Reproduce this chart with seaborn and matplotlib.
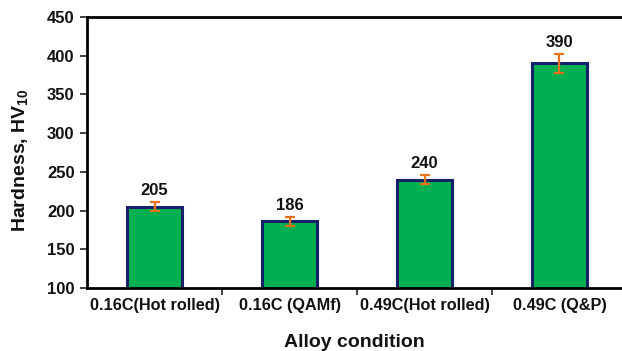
import matplotlib
matplotlib.use("Agg")
import matplotlib.pyplot as plt
import seaborn as sns
import pandas as pd
from matplotlib.ticker import FixedLocator

# Vickers hardness of each alloy condition
conditions = ["0.16C(Hot rolled)", "0.16C (QAMf)", "0.49C(Hot rolled)", "0.49C (Q&P)"]
hardness = [205, 186, 240, 390]
hardness_err = [6, 6, 6, 12]

df = pd.DataFrame({"condition": conditions, "hardness": hardness})

sns.set_theme(style="ticks")
plt.rcParams["font.family"] = ["Liberation Sans", "DejaVu Sans"]
plt.rcParams["font.weight"] = "bold"

fig = plt.figure(figsize=(6.22, 3.51), dpi=100)
ax = fig.add_axes([0.1399, 0.1795, 0.8601, 0.7721])

sns.barplot(data=df, x="condition", y="hardness", color="#00B050",
            edgecolor="#14206A", linewidth=2.2, width=0.41, saturation=1,
            errorbar=None, ax=ax)

ax.errorbar(range(len(conditions)), hardness, yerr=hardness_err, fmt="none",
            ecolor="#E8721C", elinewidth=1.6, capsize=3.5, capthick=1.6, zorder=5)

for i, (v, e) in enumerate(zip(hardness, hardness_err)):
    ax.annotate(f"{v}", (i, v + e), xytext=(0, 3), textcoords="offset points",
                ha="center", va="bottom", fontsize=12, fontweight="bold", color="#111111")

ax.set_ylim(100, 450)
ax.set_yticks(range(100, 451, 50))
ax.set_xlim(-0.5, 3.463)

# tick marks sit between the categories, labels at the bar centres
ax.tick_params(axis="x", which="major", length=0, pad=7)
ax.xaxis.set_minor_locator(FixedLocator([0.5, 1.5, 2.5]))
ax.tick_params(axis="x", which="minor", length=5, width=1.2, color="#222222", direction="out")
ax.tick_params(axis="y", length=5, width=1.2, color="#222222", direction="out", pad=4)

for lab in ax.get_xticklabels():
    lab.set_fontsize(11.7)
    lab.set_fontweight("bold")
    lab.set_color("#111111")
for lab in ax.get_yticklabels():
    lab.set_fontsize(12)
    lab.set_fontweight("bold")
    lab.set_color("#111111")

ax.set_xlabel("Alloy condition", fontsize=14, fontweight="bold", labelpad=15, color="#111111")
ax.set_ylabel(r"Hardness, HV$_{\mathregular{10}}$", fontsize=14, fontweight="bold",
              labelpad=12, color="#111111")
ax.yaxis.set_label_coords(-0.104, 0.47)

for side in ["left", "bottom", "top"]:
    ax.spines[side].set_linewidth(2.0)
    ax.spines[side].set_color("#000000")
ax.spines["right"].set_visible(False)

fig.savefig("out.png", dpi=100)
